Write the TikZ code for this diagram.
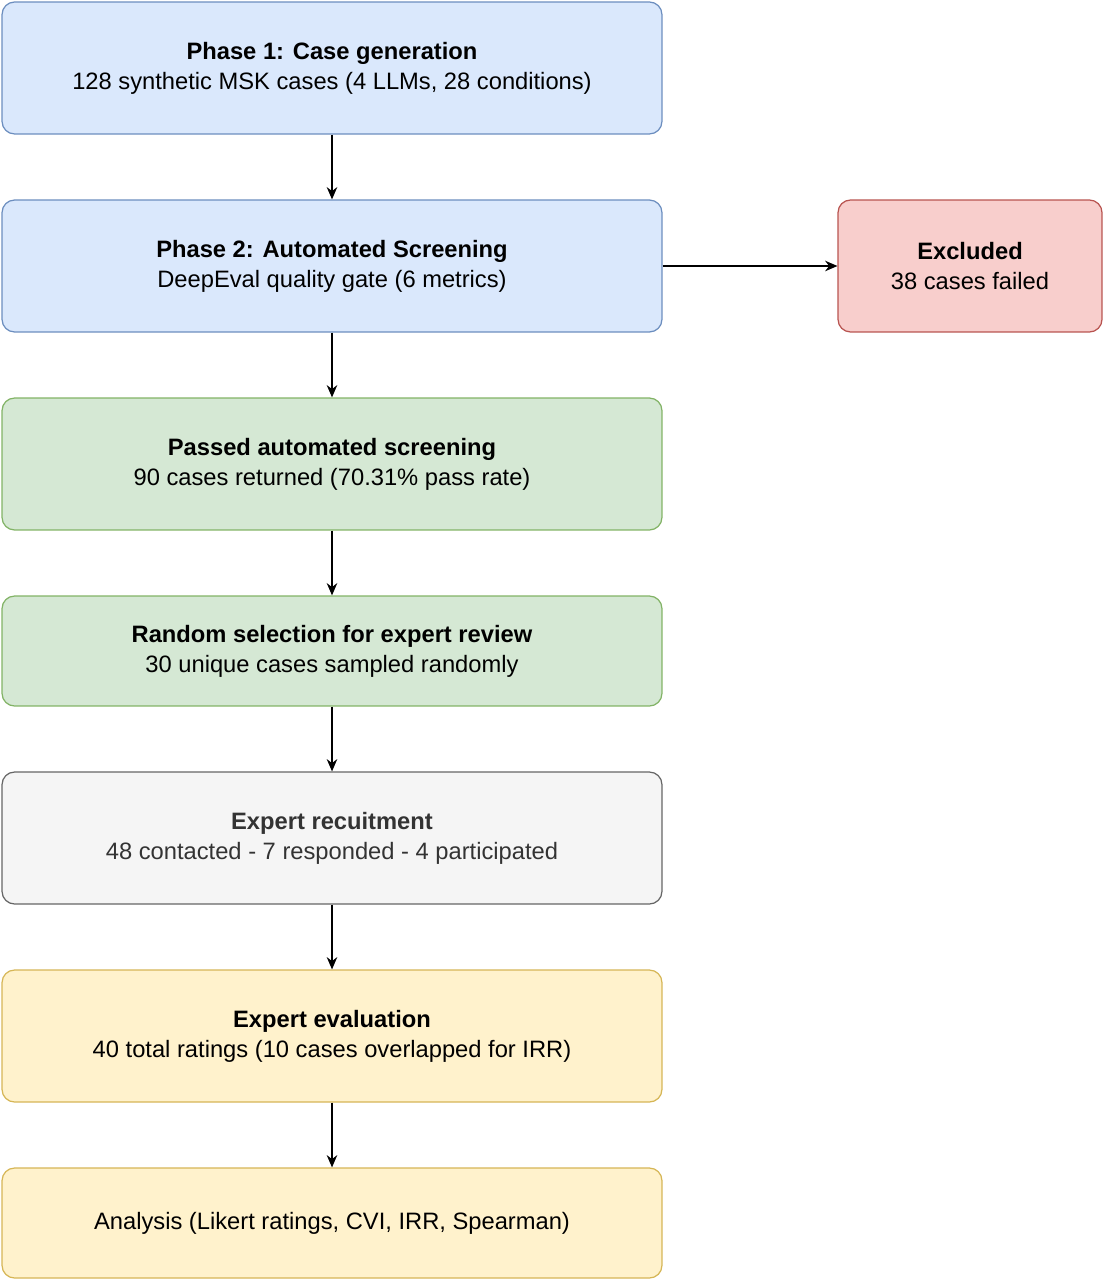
\documentclass[tikz,border=0pt]{standalone}
\usepackage{fontspec}
\setmainfont{Liberation Sans}
\usetikzlibrary{arrows.meta}
\definecolor{bluefill}{HTML}{DAE8FC}\definecolor{blueline}{HTML}{6C8EBF}
\definecolor{greenfill}{HTML}{D5E8D4}\definecolor{greenline}{HTML}{82B366}
\definecolor{grayfill}{HTML}{F5F5F5}\definecolor{grayline}{HTML}{666666}
\definecolor{graytext}{HTML}{333333}
\definecolor{yellowfill}{HTML}{FFF2CC}\definecolor{yellowline}{HTML}{D6B656}
\definecolor{redfill}{HTML}{F8CECC}\definecolor{redline}{HTML}{B85450}
\tikzset{%
  box/.style={rectangle, rounded corners=0.25cm, minimum width=13.2cm, minimum height=2.64cm,
    align=center, font=\fontsize{13.5}{17}\selectfont, line width=0.7pt},
  bluebox/.style={box, fill=bluefill, draw=blueline},
  greenbox/.style={box, fill=greenfill, draw=greenline},
  graybox/.style={box, fill=grayfill, draw=grayline, text=graytext},
  yellowbox/.style={box, fill=yellowfill, draw=yellowline},
  redbox/.style={box, fill=redfill, draw=redline, minimum width=5.28cm},
  flow/.style={-{Stealth[length=7pt,width=6pt]}, line width=0.8pt},
}
\begin{document}
\begin{tikzpicture}[x=0.02cm, y=-0.02cm]
  \useasboundingbox (0,0) rectangle (1105,1280);
  % main column
  \node[bluebox] (gen) at (332,68) {\textbf{Phase 1: Case generation}\\128 synthetic MSK cases (4 LLMs, 28 conditions)};
  \node[bluebox] (screen) at (332,266) {\textbf{Phase 2: Automated Screening}\\DeepEval quality gate (6 metrics)};
  \node[greenbox] (passed) at (332,464) {\textbf{Passed automated screening}\\90 cases returned (70.31\% pass rate)};
  \node[greenbox, minimum height=2.2cm] (select) at (332,651) {\textbf{Random selection for expert review}\\30 unique cases sampled randomly};
  \node[graybox] (recruit) at (332,838) {\textbf{Expert recuitment}\\48 contacted - 7 responded - 4 participated};
  \node[yellowbox] (eval) at (332,1036) {\textbf{Expert evaluation}\\40 total ratings (10 cases overlapped for IRR)};
  \node[yellowbox, minimum height=2.2cm] (analysis) at (332,1223) {Analysis (Likert ratings, CVI, IRR, Spearman)};
  % side branch
  \node[redbox] (excluded) at (970,266) {\textbf{Excluded}\\38 cases failed};
  % connectors
  \draw[flow] (gen) -- (screen);
  \draw[flow] (screen) -- (passed);
  \draw[flow] (passed) -- (select);
  \draw[flow] (select) -- (recruit);
  \draw[flow] (recruit) -- (eval);
  \draw[flow] (eval) -- (analysis);
  \draw[flow] (screen) -- (excluded);
\end{tikzpicture}
\end{document}
